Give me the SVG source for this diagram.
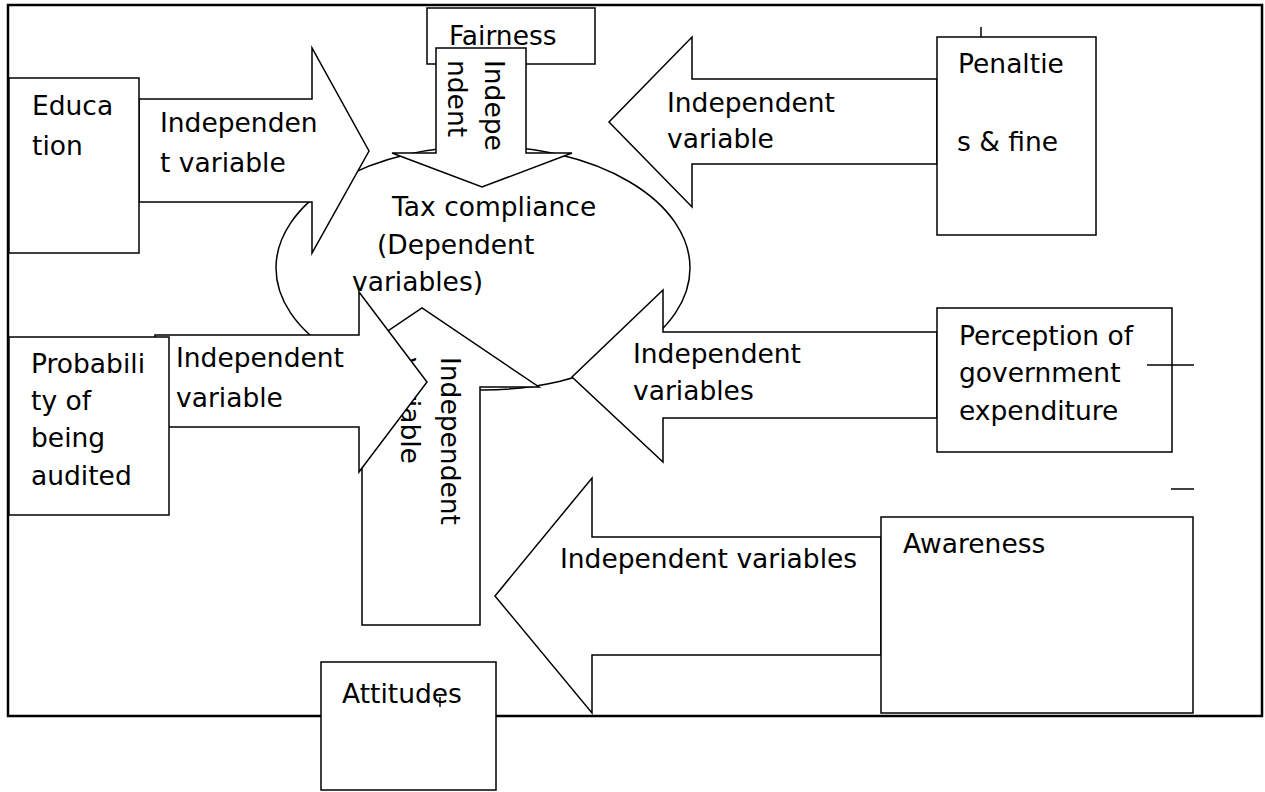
<svg xmlns="http://www.w3.org/2000/svg" width="1265" height="792" viewBox="0 0 1265 792">
<style>
.t{font-family:"DejaVu Sans","Liberation Sans",sans-serif;font-size:26.5px;fill:#000}
.s{fill:#fff;stroke:#000;stroke-width:1.5;stroke-linejoin:miter}
.f{fill:none;stroke:#000;stroke-width:2.5}
.k{stroke:#000;stroke-width:1.5;fill:none}
</style>
<rect width="1265" height="792" fill="#fff"/>
<rect id="frame" class="f" x="8" y="5" width="1254" height="711"/>

<g id="tax-compliance">
<ellipse class="s" cx="483" cy="268" rx="207" ry="122"/>
<text class="t"><tspan x="392" y="216">Tax compliance</tspan><tspan x="377" y="254">(Dependent</tspan><tspan x="352" y="291">variables)</tspan></text>
</g>

<g id="fairness">
<rect class="s" x="427" y="8" width="168" height="56"/>
<text class="t" x="449" y="45">Fairness</text>
</g>

<g id="connectors">
<g id="arrow-education">
<polygon class="s" points="139,99 312,99 312,48 369,151 312,253 312,202 139,202"/>
<text class="t"><tspan x="160" y="132">Independen</tspan><tspan x="160" y="172">t variable</tspan></text>
</g>
<g id="arrow-fairness">
<polygon class="s" points="436,48 526,48 526,153 572,153 482,187 392,153 436,153"/>
<text class="t" transform="translate(485,60) rotate(90)"><tspan x="0" y="0">Indepe</tspan><tspan x="0" y="37">ndent</tspan></text>
</g>
<g id="arrow-penalties">
<polygon class="s" points="937,79 692,79 692,37 609,122 692,207 692,164 937,164"/>
<text class="t"><tspan x="667" y="112">Independent</tspan><tspan x="667" y="148">variable</tspan></text>
</g>
<g id="arrow-attitudes">
<polygon class="s" points="362,625 362,387 305,387 422,308 539,387 480,387 480,625"/>
<text class="t" transform="translate(441,357) rotate(90)"><tspan x="0" y="0">Independent</tspan><tspan x="0" y="40">variable</tspan></text>
</g>
<g id="arrow-probability">
<polygon class="s" points="155,335 359,335 359,292 427,382 359,472 359,427 155,427"/>
<text class="t"><tspan x="176" y="367">Independent</tspan><tspan x="176" y="407">variable</tspan></text>
</g>
<g id="arrow-perception">
<polygon class="s" points="937,332 663,332 663,290 572,377 663,462 663,418 937,418"/>
<text class="t"><tspan x="633" y="363">Independent</tspan><tspan x="633" y="400">variables</tspan></text>
</g>
<g id="arrow-awareness">
<polygon class="s" points="881,537 592,537 592,478 495,596 592,713 592,655 881,655"/>
<text class="t" x="560" y="568">Independent variables</text>
</g>
</g>

<g id="education">
<rect class="s" x="9" y="78" width="130" height="175"/>
<text class="t"><tspan x="32" y="115">Educa</tspan><tspan x="32" y="155">tion</tspan></text>
</g>

<g id="probability">
<rect class="s" x="9" y="337" width="160" height="178"/>
<text class="t"><tspan x="31" y="373">Probabili</tspan><tspan x="31" y="410">ty of</tspan><tspan x="31" y="447">being</tspan><tspan x="31" y="485">audited</tspan></text>
</g>

<g id="penalties">
<line class="k" x1="981" y1="27" x2="981" y2="37"/>
<rect class="s" x="937" y="37" width="159" height="198"/>
<text class="t"><tspan x="958" y="73">Penaltie</tspan><tspan x="957" y="151">s &amp; fine</tspan></text>
</g>

<g id="perception">
<rect class="s" x="937" y="308" width="235" height="144"/>
<text class="t"><tspan x="959" y="345">Perception of</tspan><tspan x="959" y="382">government</tspan><tspan x="959" y="420">expenditure</tspan></text>
<line class="k" x1="1147" y1="365" x2="1194" y2="365"/>
<line class="k" x1="1171" y1="489" x2="1194" y2="489"/>
</g>

<g id="awareness">
<rect class="s" x="881" y="517" width="312" height="196"/>
<text class="t" x="903" y="553">Awareness</text>
</g>

<g id="attitudes">
<rect class="s" x="321" y="662" width="175" height="128"/>
<text class="t" x="342" y="703">Attitudes</text>
<line class="k" x1="440" y1="697" x2="440" y2="707"/>
</g>
</svg>
